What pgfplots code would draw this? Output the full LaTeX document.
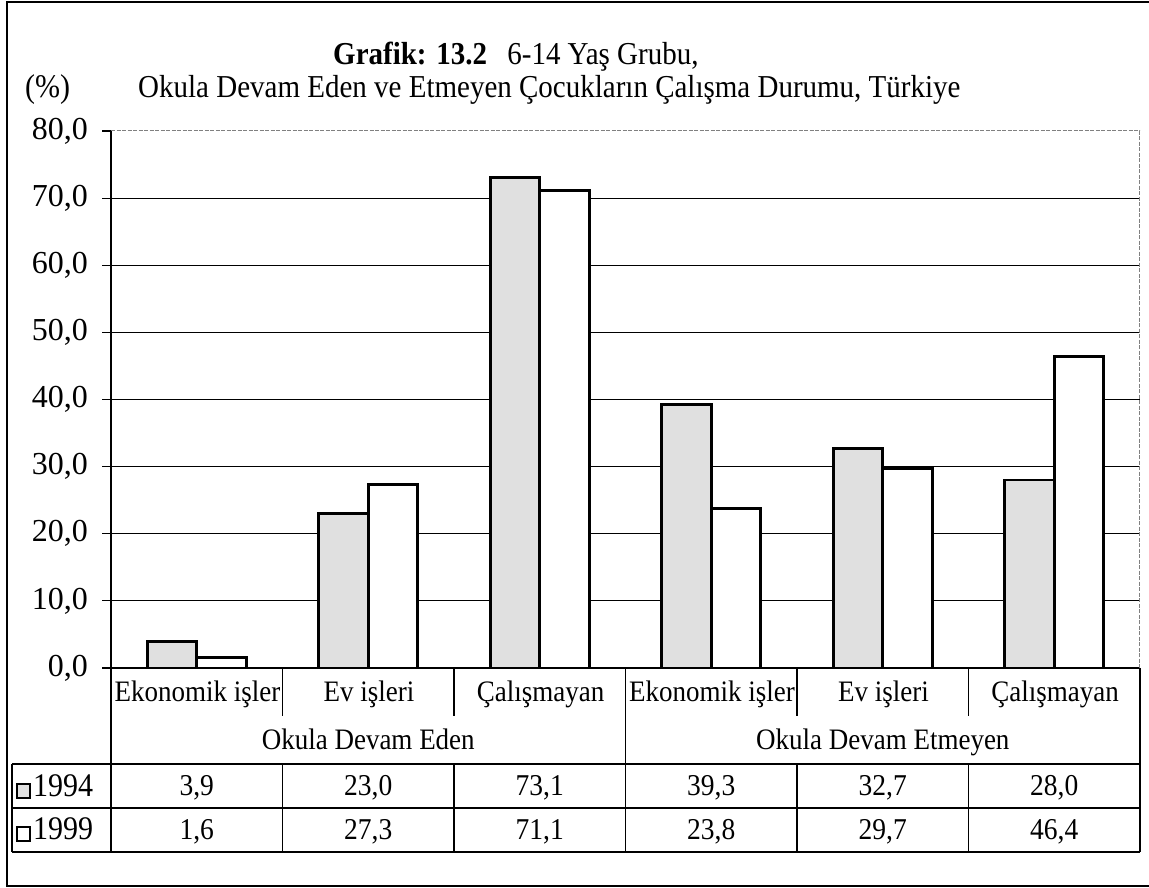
\documentclass[border=0pt]{standalone}
\usepackage{pgfplots}
\usepackage{pgfplotstable}
\pgfplotsset{compat=1.18}
\usepackage{fontspec}
\setmainfont{Liberation Serif}
\definecolor{stip}{gray}{0.88}

\pgfplotstableread{
x y
0 3.9
1 23.0
2 73.1
3 39.3
4 32.7
5 28.0
}\dataA
\pgfplotstableread{
x y
0 1.6
1 27.3
2 71.1
3 23.8
4 29.7
5 46.4
}\dataB

\newcommand{\titlefont}{\fontsize{29}{34}\selectfont}
\newcommand{\catfont}{\fontsize{27}{32}\selectfont}
\newcommand{\numfont}{\fontsize{27.5}{32}\selectfont}
\newcommand{\vs}[1]{\scalebox{1}[1.1]{#1}}

\begin{document}
\begin{tikzpicture}[x=1pt,y=1pt]
\path[use as bounding box] (0,0) rectangle (1149,887);
% outer frame
\draw[black, line width=1.2pt] (1149,885) -- (7,885) -- (7,1) -- (1149,1);

\begin{axis}[
  at={(111pt,219pt)}, anchor=south west,
  scale only axis, width=1029pt, height=537pt,
  xmin=-0.5, xmax=5.5, ymin=0, ymax=80,
  axis x line*=bottom, axis y line*=left,
  axis line style={-},
  x axis line style={line width=1.5pt},
  y axis line style={line width=1.8pt},
  xtick=\empty,
  ytick={0,10,...,70},
  extra y ticks={80},
  extra tick style={grid=none},
  ymajorgrids,
  major grid style={black, line width=1.2pt},
  tick align=outside, major tick length=9pt,
  tick style={black, line width=1.2pt},
  /pgf/number format/fixed,
  /pgf/number format/fixed zerofill,
  /pgf/number format/precision=1,
  /pgf/number format/use comma,
  /pgf/number format/assume math mode=true,
  yticklabel style={font=\fontsize{32}{36}\selectfont, inner sep=0pt, xshift=-14pt},
  ybar=0pt, bar width=49.5pt,
  clip=false,
]
\addplot[fill=stip, draw=black, line width=2.7pt] table {\dataA};
\addplot[fill=white, draw=black, line width=2.7pt] table {\dataB};
\draw[gray, line width=1pt, dash pattern=on 4pt off 1.5pt] (rel axis cs:0,1) -- (rel axis cs:1,1) -- (rel axis cs:1,0);
\end{axis}

% title
\node[anchor=base west, inner sep=0pt, font=\titlefont] at (333,822) {\vs{\textbf{Grafik: 13.2}\hspace{0.7em}6-14 Yaş Grubu,}};
\node[anchor=base west, inner sep=0pt, font=\titlefont] at (138,789) {\vs{Okula Devam Eden ve Etmeyen Çocukların Çalışma Durumu, Türkiye}};
\node[anchor=base west, inner sep=0pt, font=\fontsize{30}{34}\selectfont] at (25,789) {\vs{(\%)}};

% table lines
\begin{scope}[line width=1.2pt, black]
\draw (111,219) -- (111,35);
\draw (1140,219) -- (1140,35);
\draw (625.5,219) -- (625.5,35);
\foreach \xx in {282.5,454,797,968.5} {\draw (\xx,219) -- (\xx,171); \draw (\xx,123) -- (\xx,35);}
\draw (12,123) -- (1140,123);
\draw (12,79) -- (1140,79);
\draw (12,35) -- (1140,35);
\draw (12,123) -- (12,35);
\end{scope}

% category labels
\foreach \lab [count=\i from 0] in {Ekonomik işler, Ev işleri, Çalışmayan, Ekonomik işler, Ev işleri, Çalışmayan}
  \node[anchor=base, inner sep=0pt, font=\catfont] at ({197.5+171.5*\i},185) {\vs{\lab}};
\node[anchor=base, inner sep=0pt, font=\catfont] at (368.25,137) {\vs{Okula Devam Eden}};
\node[anchor=base, inner sep=0pt, font=\catfont] at (882.75,137) {\vs{Okula Devam Etmeyen}};

% values
\foreach \v [count=\i from 0] in {{3,9},{23,0},{73,1},{39,3},{32,7},{28,0}}
  \node[anchor=base, inner sep=0pt, font=\numfont] at ({196.75+171.5*\i},92) {\vs{\v}};
\foreach \v [count=\i from 0] in {{1,6},{27,3},{71,1},{23,8},{29,7},{46,4}}
  \node[anchor=base, inner sep=0pt, font=\numfont] at ({196.75+171.5*\i},48) {\vs{\v}};

% legend
\draw[line width=1.8pt, fill=stip] (17,89) rectangle (30,103);
\draw[line width=1.8pt, fill=white] (17,46) rectangle (30,60);
\node[anchor=base west, inner sep=0pt, font=\fontsize{30}{34}\selectfont] at (33,91) {\vs{1994}};
\node[anchor=base west, inner sep=0pt, font=\fontsize{30}{34}\selectfont] at (33,48) {\vs{1999}};
\end{tikzpicture}
\end{document}
